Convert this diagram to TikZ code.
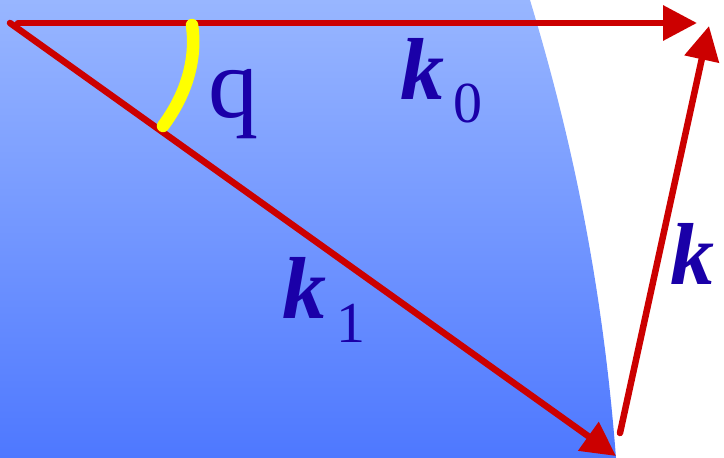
\documentclass[tikz,border=0pt]{standalone}
\usepackage{fontspec}
\setmainfont{Liberation Serif}
\usetikzlibrary{arrows.meta}
\definecolor{arrowred}{RGB}{204,0,0}
\definecolor{labelblue}{RGB}{26,0,168}
\definecolor{topblue}{RGB}{152,182,255}
\definecolor{botblue}{RGB}{78,120,255}
\definecolor{arcyellow}{RGB}{255,255,0}
\begin{document}
\begin{tikzpicture}[x=1pt,y=-1pt,
  vec/.style={draw=arrowred,line width=6.5pt,line cap=round,
    -{Triangle[length=34pt,width=34pt]}},
  lbl/.style={text=labelblue,inner sep=0pt,anchor=base west},
  angarc/.style={draw=arcyellow,line width=12.5pt,line cap=round}]
\useasboundingbox (0,0) rectangle (724,458);
% shaded region
\shade[top color=topblue,bottom color=botblue]
  (0,0) -- (530,0) .. controls (560,100) and (600,250) .. (616,458) -- (0,458) -- cycle;
% points
\coordinate (O) at (10,23);
\coordinate (S0) at (18,23);
\coordinate (T0) at (697,23);
\coordinate (T1) at (616,456);
\coordinate (S) at (620,433);
\coordinate (T) at (709,26);
\coordinate (A0) at (192,25);
\coordinate (A1) at (163,126);
% vectors
\draw[vec] (S0) -- (T0);
\draw[vec] (O) -- (T1);
\draw[vec] (S) -- (T);
% yellow angle arc
\draw[angarc] (A0) .. controls (197,60) and (186,95) .. (A1);
% labels
\node[lbl,font=\fontsize{100}{100}\selectfont] (q) at (208,117) {q};
\node[lbl,font=\fontsize{88}{88}\selectfont\bfseries\itshape] (k0) at (400,99) {k};
\node[lbl,font=\fontsize{58}{58}\selectfont] (k0s) at (453,122) {0};
\node[lbl,font=\fontsize{88}{88}\selectfont\bfseries\itshape] (k1) at (282,318) {k};
\node[lbl,font=\fontsize{58}{58}\selectfont] (k1s) at (336,342) {1};
\node[lbl,font=\fontsize{88}{88}\selectfont\bfseries\itshape] (k) at (670,284) {k};
\end{tikzpicture}
\end{document}
